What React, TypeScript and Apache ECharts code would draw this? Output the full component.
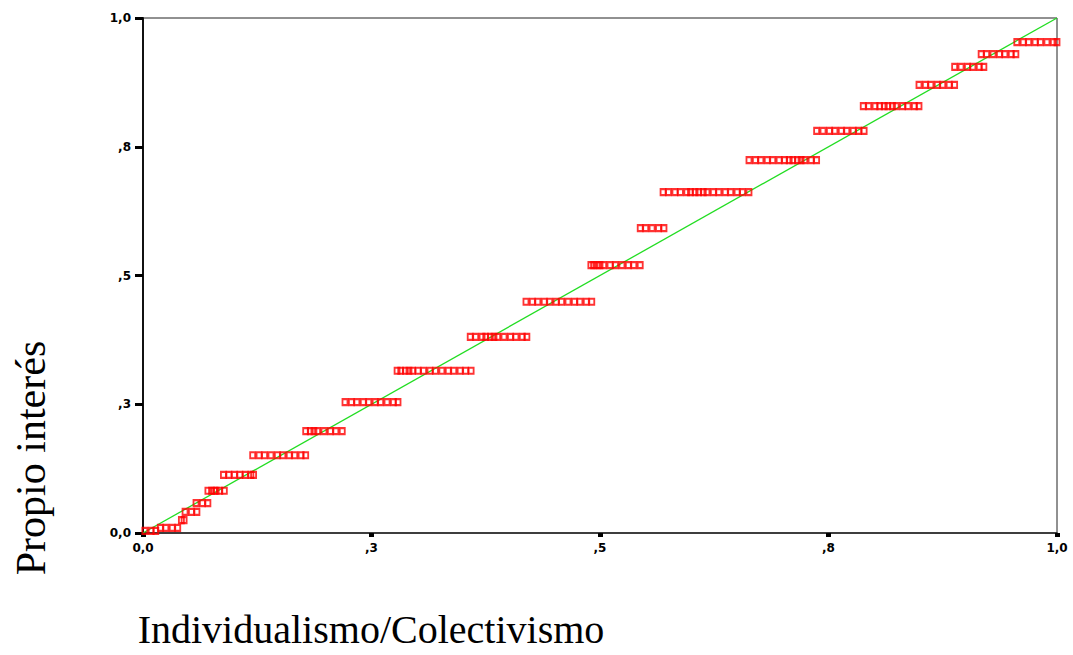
import React, { useEffect, useRef } from "react";
import * as echarts from "echarts";

// Staircase levels (y) and the x positions of the points on each level
const stepY = [
  0.004, 0.01, 0.025, 0.041, 0.058, 0.082, 0.113, 0.151, 0.198, 0.254, 0.315,
  0.381, 0.449, 0.52, 0.592, 0.662, 0.724, 0.781, 0.829, 0.87, 0.905, 0.93, 0.953,
];
const stepX: number[][] = [
  [0.002, 0.009, 0.014],
  [0.019, 0.025, 0.032, 0.038],
  [0.042, 0.045],
  [0.046, 0.053, 0.059],
  [0.058, 0.065, 0.071],
  [0.071, 0.075, 0.078, 0.08, 0.084, 0.089],
  [0.088, 0.094, 0.1, 0.106, 0.112, 0.118, 0.121],
  [0.12, 0.127, 0.133, 0.14, 0.147, 0.153, 0.16, 0.166, 0.173, 0.178],
  [0.178, 0.183, 0.187, 0.191, 0.198, 0.205, 0.211, 0.218],
  [0.221, 0.228, 0.234, 0.241, 0.247, 0.254, 0.26, 0.267, 0.274, 0.279],
  [0.278, 0.282, 0.287, 0.291, 0.295, 0.301, 0.307, 0.314, 0.32, 0.327, 0.334, 0.34, 0.347, 0.353, 0.359],
  [0.358, 0.364, 0.371, 0.375, 0.38, 0.384, 0.388, 0.395, 0.402, 0.408, 0.415, 0.42],
  [0.419, 0.426, 0.432, 0.439, 0.445, 0.452, 0.458, 0.465, 0.472, 0.478, 0.485, 0.491],
  [0.49, 0.493, 0.497, 0.5, 0.504, 0.511, 0.517, 0.524, 0.531, 0.537, 0.544],
  [0.544, 0.55, 0.557, 0.564, 0.57],
  [0.569, 0.575, 0.582, 0.588, 0.595, 0.599, 0.604, 0.608, 0.613, 0.617, 0.624, 0.63, 0.637, 0.643, 0.65, 0.656, 0.663],
  [0.663, 0.67, 0.676, 0.683, 0.689, 0.696, 0.702, 0.707, 0.711, 0.716, 0.72, 0.724, 0.731, 0.737],
  [0.737, 0.744, 0.751, 0.757, 0.764, 0.77, 0.777, 0.783, 0.789],
  [0.788, 0.794, 0.801, 0.806, 0.811, 0.815, 0.82, 0.824, 0.831, 0.837, 0.844, 0.849],
  [0.849, 0.856, 0.862, 0.869, 0.875, 0.882, 0.888],
  [0.888, 0.895, 0.902, 0.908, 0.915, 0.92],
  [0.917, 0.923, 0.93, 0.937, 0.943, 0.95, 0.955],
  [0.956, 0.963, 0.969, 0.976, 0.982, 0.989, 0.996, 1.0],
];
const diagonal = [
  [0, 0],
  [1, 1],
];
const tickValues = [0, 0.25, 0.5, 0.75, 1];
const tickLabels = ["0,0", ",3", ",5", ",8", "1,0"];
const xTitle = "Individualismo/Colectivismo";
const yTitle = "Propio interés";

const fmt = (v: number) => {
  const i = tickValues.findIndex((t) => Math.abs(t - v) < 1e-6);
  return i >= 0 ? tickLabels[i] : "";
};

export default function App() {
  const ref = useRef<HTMLDivElement>(null);
  useEffect(() => {
    if (!ref.current) return;
    const chart = echarts.init(ref.current, null, { renderer: "svg" });
    const points: number[][] = [];
    stepY.forEach((y, i) => stepX[i].forEach((x) => points.push([x, y])));
    const labelStyle = {
      color: "#000",
      fontFamily: "DejaVu Sans",
      fontWeight: "bold" as const,
      fontSize: 12,
      formatter: fmt,
    };
    chart.setOption({
      animation: false,
      backgroundColor: "#fff",
      grid: {
        left: 143,
        top: 18,
        width: 914,
        height: 515,
        show: true,
        borderColor: "#222",
        borderWidth: 1,
        backgroundColor: "transparent",
      },
      xAxis: {
        type: "value",
        min: 0,
        max: 1,
        interval: 0.25,
        splitLine: { show: false },
        axisLine: { show: true, lineStyle: { color: "#222", width: 1.5 } },
        axisTick: { show: true, length: 4, inside: false, lineStyle: { color: "#000", width: 5 } },
        axisLabel: { ...labelStyle, margin: 9 },
      },
      yAxis: {
        type: "value",
        min: 0,
        max: 1,
        interval: 0.25,
        splitLine: { show: false },
        axisLine: { show: true, lineStyle: { color: "#111", width: 2 } },
        axisTick: { show: true, length: 8, lineStyle: { color: "#000", width: 3 } },
        axisLabel: { ...labelStyle, margin: 12 },
      },
      series: [
        {
          type: "line",
          data: diagonal,
          symbol: "none",
          lineStyle: { color: "#22dd22", width: 1.3 },
          z: 1,
        },
        {
          type: "scatter",
          data: points,
          symbol: "rect",
          symbolSize: [5, 6],
          itemStyle: {
            color: "rgba(255,255,255,0)",
            borderColor: "#ff0000",
            borderWidth: 2,
          },
          z: 2,
        },
      ],
      graphic: [
        {
          type: "text",
          x: 31,
          y: 458,
          rotation: Math.PI / 2,
          style: {
            text: yTitle,
            fontFamily: "Liberation Serif",
            fontSize: 42,
            fill: "#000",
            align: "center",
            verticalAlign: "middle",
          },
        },
        {
          type: "text",
          x: 371,
          y: 629,
          style: {
            text: xTitle,
            fontFamily: "Liberation Serif",
            fontSize: 40,
            fill: "#000",
            align: "center",
            verticalAlign: "middle",
          },
        },
      ],
    });
    return () => chart.dispose();
  }, []);
  return (
    <div
      ref={ref}
      style={{ position: "fixed", left: 0, top: 0, width: 1073, height: 655, background: "#fff" }}
    />
  );
}
